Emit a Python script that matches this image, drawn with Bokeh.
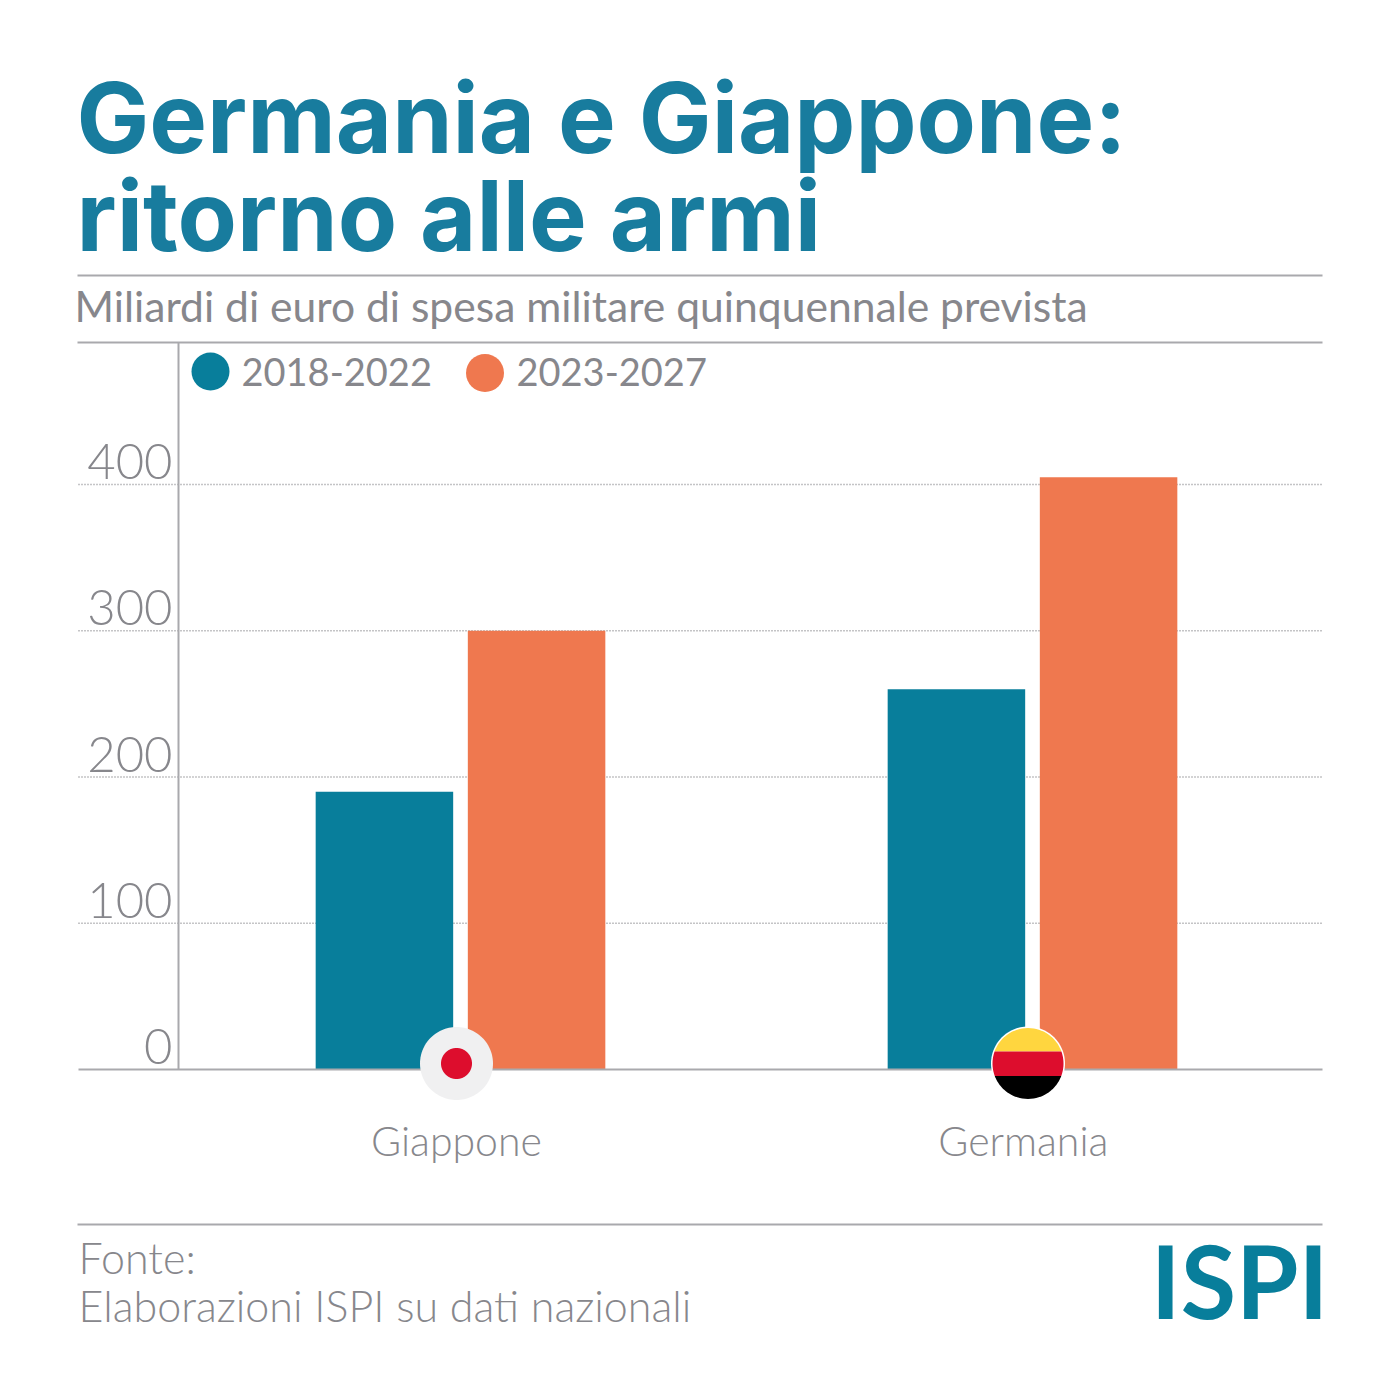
import numpy as np
from bokeh.embed import file_html
from bokeh.resources import INLINE
from bokeh.plotting import figure
from bokeh.models import Range1d, Label, FixedTicker, ColumnDataSource
from bokeh.transform import dodge

# ---- data
categories = ["Giappone", "Germania"]
series_names = ["2018-2022", "2023-2027"]
values_2018_2022 = [190, 260]
values_2023_2027 = [300, 405]
y_ticks = [0, 100, 200, 300, 400]
y_tick_labels = ["0", "100", "200", "300", "400"]
category_positions = [0, 1]
label_positions = [-0.007, 0.984]

TEAL = "#087E9B"
ORANGE = "#EF784F"
TITLE = "#187C9E"
GREY = "#87878C"
RULE = "#A9A9AD"
LIGHT = "Lato Light"

# ---- layout in image pixels
PAGE0, PAGE1 = 0, 1384
X0, UX = 460.0, 572.0
Y0, UY = 1069.0, 1.4625
LEFT, RIGHT, TOP = 78, 1322, 342
AXIS_X = 178
LABEL_LIFT = 23  # tick labels sit above their gridline

p = figure(width=1384, height=1384, output_backend="svg", toolbar_location=None,
           x_range=Range1d((PAGE0 - X0) / UX, (PAGE1 - X0) / UX),
           y_range=Range1d((Y0 - PAGE1) / UY, (Y0 - PAGE0) / UY),
           min_border=0, outline_line_color=None, background_fill_color="white")
p.extra_x_ranges = {"px": Range1d(PAGE0, PAGE1)}
p.extra_y_ranges = {"px": Range1d(PAGE1, PAGE0)}
PX = dict(x_range_name="px", y_range_name="px")
x_left, x_right = (LEFT - X0) / UX, (RIGHT - X0) / UX
y_top = (Y0 - TOP) / UY
axis_pos = (AXIS_X - X0) / UX

p.xgrid.visible = False
p.ygrid.visible = False

# dotted gridlines
p.segment(x0=[x_left] * 4, x1=[x_right] * 4, y0=y_ticks[1:], y1=y_ticks[1:],
          line_color="#8A8A8E", line_width=1.5, line_dash="1 2", level="underlay")

# bars
src = ColumnDataSource(dict(x=category_positions, a=values_2018_2022, b=values_2023_2027))
BW = 0.2404
p.vbar(x=dodge("x", -0.133, range=p.x_range), top="a", bottom=0, width=BW, source=src,
       fill_color=TEAL, line_color=None)
p.vbar(x=dodge("x", 0.133, range=p.x_range), top="b", bottom=0, width=BW, source=src,
       fill_color=ORANGE, line_color=None)

# axes
tick_places = [t + LABEL_LIFT / UY for t in y_ticks]
ya = p.yaxis[0]
ya.fixed_location = axis_pos
ya.bounds = (0, y_top)
ya.ticker = FixedTicker(ticks=tick_places)
ya.major_label_overrides = dict(zip(tick_places, y_tick_labels))
ya.major_tick_line_color = None
ya.minor_tick_line_color = None
ya.axis_line_color = RULE
ya.axis_line_width = 2
ya.major_label_standoff = 0
ya.major_label_text_font = LIGHT
ya.major_label_text_font_size = "49px"
ya.major_label_text_color = GREY

xa = p.xaxis[0]
xa.fixed_location = 0
xa.bounds = (x_left, x_right)
xa.ticker = FixedTicker(ticks=label_positions)
xa.major_label_overrides = dict(zip(label_positions, categories))
xa.major_tick_line_color = None
xa.minor_tick_line_color = None
xa.axis_line_color = RULE
xa.axis_line_width = 2
xa.major_label_standoff = 40
xa.major_label_text_font = LIGHT
xa.major_label_text_font_size = "41px"
xa.major_label_text_color = GREY

# rules
for y in (275, 342, 1224):
    p.line([LEFT - 1, RIGHT], [y, y], line_color=RULE, line_width=2, **PX)

# legend
p.scatter([210, 484.5], [371, 372.5], size=[38, 38], fill_color=[TEAL, ORANGE], line_color=None, **PX)


def text(x, y, s, size, color, font=LIGHT, style="normal", align="left", k=0.4):
    p.add_layout(Label(x=x, y=y - k * size, text=s, text_font_size=f"{size}px", text_color=color,
                       text_font=font, text_font_style=style, text_align=align,
                       text_baseline="alphabetic", **PX))


text(241, 387, series_names[0], 38, GREY, font="Lato")
text(516, 387, series_names[1], 38, GREY, font="Lato")

# title, subtitle, source, logo
text(76, 152, "Germania e Giappone:", 97, TITLE, font="Inter", style="bold", k=0.36)
text(76, 250, "ritorno alle armi", 97, TITLE, font="Inter", style="bold", k=0.36)
text(74, 322, "Miliardi di euro di spesa militare quinquennale prevista", 42.6, GREY, font="Lato")
text(78, 1274, "Fonte:", 43, GREY)
text(78, 1322, "Elaborazioni ISPI su dati nazionali", 43, GREY)
text(1328, 1320, "ISPI", 101, TEAL, font="Lato", style="bold", align="right")


# flags
def disc(cx, cy, r, color):
    t = np.linspace(0, 2 * np.pi, 121)
    p.patch(cx + r * np.cos(t), cy + r * np.sin(t), fill_color=color, line_color=None,
            level="annotation", **PX)


def band(cx, cy, r, y1, y2, color):
    ys = np.linspace(y1, y2, 50)
    w = np.sqrt(np.maximum(r ** 2 - (ys - cy) ** 2, 0))
    p.patch(np.r_[cx - w, (cx + w)[::-1]], np.r_[ys, ys[::-1]], fill_color=color, line_color=None,
            level="annotation", **PX)


disc(456, 1063, 36.5, "#F0F0F1")
disc(456, 1063, 15.5, "#DD0D2D")
disc(1027.5, 1063, 37, "white")
band(1027.5, 1063, 35.5, 1027.5, 1051, "#FFD63F")
band(1027.5, 1063, 35.5, 1051, 1075.5, "#DD0D2D")
band(1027.5, 1063, 35.5, 1075.5, 1098.5, "#000000")

open("out.html", "w").write(file_html(p, INLINE))
